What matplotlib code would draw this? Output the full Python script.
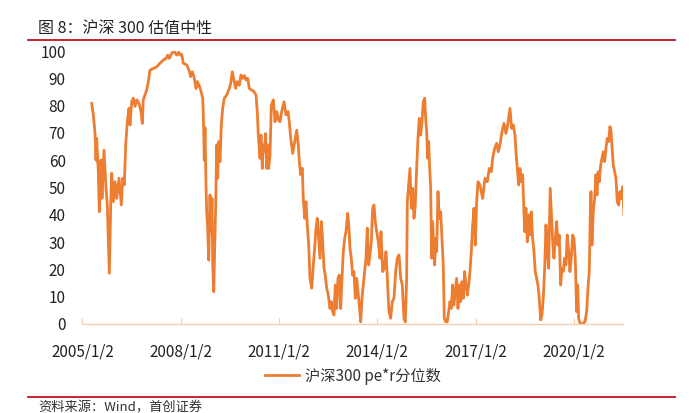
import matplotlib
matplotlib.use("Agg")
import matplotlib.pyplot as plt
from matplotlib.lines import Line2D

plt.rcParams['font.family'] = ['Noto Sans CJK SC', 'DejaVu Sans']

# decimal year of each reading, and the 沪深300 pe*r percentile
years = [
    2005.287, 2005.336, 2005.388, 2005.418, 2005.439, 2005.488, 2005.519, 2005.571, 2005.601, 2005.662,
    2005.723, 2005.763, 2005.824, 2005.867, 2005.897, 2005.946, 2005.998, 2006.050, 2006.120, 2006.190,
    2006.233, 2006.282, 2006.324, 2006.373, 2006.425, 2006.456, 2006.507, 2006.556, 2006.608, 2006.660,
    2006.730, 2006.791, 2006.831, 2006.861, 2006.913, 2006.965, 2007.014, 2007.066, 2007.167, 2007.270,
    2007.371, 2007.472, 2007.554, 2007.606, 2007.655, 2007.728, 2007.807, 2007.881, 2007.942,
    2007.981, 2008.033, 2008.082, 2008.186, 2008.256, 2008.308, 2008.357, 2008.409, 2008.470, 2008.509,
    2008.561, 2008.613, 2008.674, 2008.692, 2008.723, 2008.744, 2008.775, 2008.796, 2008.827, 2008.857,
    2008.897, 2008.927, 2008.958, 2008.979, 2009.010, 2009.040, 2009.071, 2009.101, 2009.132, 2009.162,
    2009.202, 2009.242, 2009.284, 2009.333, 2009.407, 2009.486, 2009.529, 2009.577, 2009.629, 2009.681,
    2009.730, 2009.791, 2009.843, 2009.895, 2009.944, 2009.995, 2010.047, 2010.096, 2010.169, 2010.240,
    2010.301, 2010.340, 2010.371, 2010.423, 2010.453, 2010.493, 2010.523, 2010.554, 2010.597, 2010.627,
    2010.658, 2010.688, 2010.728, 2010.768, 2010.829, 2010.881, 2010.933, 2010.994,
    2011.033, 2011.085, 2011.155, 2011.216, 2011.277, 2011.317, 2011.360, 2011.421, 2011.482, 2011.543,
    2011.592, 2011.623, 2011.665, 2011.714, 2011.744, 2011.787, 2011.827, 2011.866, 2011.909, 2011.949,
    2012.001, 2012.049, 2012.092, 2012.132, 2012.171, 2012.214, 2012.254, 2012.293, 2012.324, 2012.376,
    2012.415, 2012.458, 2012.507, 2012.558, 2012.598, 2012.641, 2012.681, 2012.721, 2012.763, 2012.803,
    2012.843, 2012.885, 2012.925, 2012.965, 2013.007, 2013.047, 2013.099, 2013.139, 2013.169, 2013.209,
    2013.251, 2013.291, 2013.331, 2013.374, 2013.413, 2013.453, 2013.496, 2013.535, 2013.575, 2013.618,
    2013.657, 2013.697, 2013.740, 2013.780, 2013.819, 2013.862, 2013.902, 2013.941, 2013.984, 2014.033,
    2014.084, 2014.115, 2014.167, 2014.216, 2014.268, 2014.308, 2014.359, 2014.411, 2014.460, 2014.512,
    2014.564, 2014.613, 2014.665, 2014.717, 2014.765, 2014.817, 2014.857, 2014.899, 2014.918, 2014.960,
    2015.000, 2015.040, 2015.082, 2015.122, 2015.162, 2015.204, 2015.244, 2015.284, 2015.327, 2015.366,
    2015.406, 2015.449, 2015.479, 2015.510, 2015.540, 2015.571, 2015.601, 2015.632, 2015.662, 2015.693,
    2015.723, 2015.754, 2015.784, 2015.815, 2015.855, 2015.894, 2015.937, 2015.977, 2016.016, 2016.047,
    2016.090, 2016.138, 2016.181, 2016.221, 2016.260, 2016.303, 2016.343, 2016.382, 2016.425, 2016.465,
    2016.505, 2016.547, 2016.587, 2016.627, 2016.669, 2016.709, 2016.749, 2016.791, 2016.831, 2016.871,
    2016.914, 2016.953, 2016.993, 2017.036, 2017.076,
    2017.136, 2017.219, 2017.289, 2017.359, 2017.420, 2017.481, 2017.524, 2017.585, 2017.646, 2017.695,
    2017.747, 2017.808, 2017.869, 2017.930, 2017.991, 2018.052, 2018.104, 2018.153, 2018.205, 2018.235,
    2018.275, 2018.317, 2018.357, 2018.397, 2018.439, 2018.470, 2018.500, 2018.540, 2018.580, 2018.622,
    2018.662, 2018.702, 2018.744, 2018.784, 2018.824, 2018.867, 2018.906, 2018.946, 2018.989, 2019.028,
    2019.068, 2019.111, 2019.150, 2019.190, 2019.233, 2019.251, 2019.281, 2019.312, 2019.355, 2019.394,
    2019.434, 2019.477, 2019.516, 2019.556, 2019.599, 2019.638, 2019.678, 2019.721, 2019.760, 2019.800,
    2019.843, 2019.882, 2019.922, 2019.965, 2020.005, 2020.044, 2020.087, 2020.118, 2020.148, 2020.188,
    2020.240, 2020.289, 2020.341, 2020.392, 2020.432, 2020.472, 2020.502, 2020.524, 2020.554, 2020.594,
    2020.636, 2020.676, 2020.707, 2020.746, 2020.777, 2020.820, 2020.859, 2020.899, 2020.942, 2020.981,
    2021.021, 2021.063, 2021.103, 2021.134, 2021.164, 2021.204, 2021.247, 2021.286, 2021.326, 2021.369,
    2021.409, 2021.448, 2021.491, 2021.531,
]
pct = [
    80.8, 76.6, 69.8, 60.0, 68.0, 55.8, 41.1, 60.1, 46.0, 63.7,
    49.7, 43.6, 18.6, 43.6, 55.2, 44.8, 52.1, 46.0, 53.4, 43.6,
    53.4, 51.0, 65.6, 74.1, 79.0, 72.9, 81.4, 82.7, 79.7, 82.1,
    80.8, 77.8, 73.5, 82.1, 83.9, 85.7, 88.8, 93.0, 93.6, 94.2,
    95.5, 96.7, 97.3, 98.5, 97.3, 99.2, 99.8, 98.5, 99.6,
    98.5, 98.8, 95.5, 94.9, 93.0, 90.6, 92.4, 90.6, 86.3, 88.8,
    87.5, 85.7, 82.7, 77.2, 60.0, 72.0, 50.9, 41.1, 35.1, 23.4,
    47.3, 33.8, 46.0, 22.8, 11.8, 27.7, 43.6, 65.6, 53.4, 66.8,
    59.5, 72.9, 79.0, 82.7, 83.9, 86.3, 88.2, 92.4, 89.4, 86.3,
    88.8, 87.5, 91.2, 90.0, 91.0, 89.4, 90.0, 86.3, 85.7, 85.1,
    83.9, 77.8, 69.2, 60.7, 69.2, 57.0, 65.6, 63.1, 69.8, 57.0,
    65.6, 57.0, 61.9, 80.2, 82.1, 74.1, 77.8, 74.7,
    74.1, 77.8, 81.4, 76.6, 77.8, 74.1, 68.0, 62.5, 66.8, 71.0,
    65.6, 59.5, 54.7, 57.0, 46.0, 38.7, 44.8, 36.3, 28.9, 16.7,
    13.1, 21.6, 27.7, 35.1, 38.7, 31.4, 24.1, 37.5, 32.6, 20.4,
    17.9, 13.1, 10.6, 5.7, 8.2, 4.5, 3.3, 14.3, 5.7, 16.7,
    17.9, 5.7, 16.7, 26.5, 31.4, 33.8, 40.5, 35.1, 27.7, 24.1,
    17.9, 19.2, 9.4, 16.7, 11.8, 7.0, 0.8, 9.4, 14.3, 19.2,
    24.1, 35.1, 21.6, 25.3, 30.1, 42.4, 43.6, 37.5, 33.8, 30.1,
    24.1, 33.8, 19.2, 20.4, 26.5, 16.7, 4.5, 2.1, 8.2, 9.4,
    19.2, 24.1, 25.3, 16.7, 14.3, 2.1, 0.8, 16.7, 44.8, 50.9,
    57.0, 42.4, 49.7, 38.7, 43.6, 57.0, 68.0, 75.3, 69.2, 74.1,
    81.4, 82.7, 75.3, 70.4, 60.7, 66.8, 57.0, 49.7, 24.1, 37.5,
    28.9, 21.6, 31.4, 26.5, 48.5, 38.7, 41.1, 31.4, 21.6, 2.1,
    0.8, 0.8, 4.5, 8.2, 5.7, 14.3, 7.0, 11.8, 16.7, 5.7,
    14.3, 8.2, 15.5, 9.4, 19.2, 14.3, 10.6, 14.3, 19.2, 26.5,
    36.3, 42.4, 28.9, 44.8, 52.1,
    50.9, 46.0, 53.4, 52.1, 57.0, 55.8, 60.7, 64.3, 66.2, 63.1,
    65.6, 70.4, 73.5, 69.8, 73.5, 79.0, 71.6, 72.9, 69.2, 63.1,
    57.0, 50.9, 57.0, 52.1, 54.7, 43.6, 33.8, 42.4, 30.1, 40.0,
    32.6, 41.1, 31.4, 26.5, 19.2, 16.7, 14.3, 9.4, 1.5, 3.3,
    9.4, 20.4, 36.3, 26.5, 20.4, 33.8, 49.7, 41.1, 30.1, 24.1,
    31.4, 37.5, 28.9, 32.6, 14.3, 20.4, 19.2, 24.1, 21.6, 32.6,
    26.5, 19.2, 24.1, 32.6, 31.4, 24.1, 4.5, 14.3, 2.1, 0.3,
    0.0, 0.3, 0.8, 4.5, 13.1, 19.2, 38.7, 48.5, 28.9, 41.1,
    46.0, 54.7, 47.3, 55.8, 52.1, 58.2, 60.7, 63.1, 59.5, 64.3,
    68.0, 66.8, 72.3, 71.0, 65.6, 58.2, 55.8, 53.4, 44.8, 43.6,
    48.5, 46.0, 50.3, 40.0,
]
tick_years = [2005, 2008, 2011, 2014, 2017, 2020]
tick_labels = [f"{y}/1/2" for y in tick_years]
y_ticks = [0, 10, 20, 30, 40, 50, 60, 70, 80, 90, 100]

title = "图 8：沪深 300 估值中性"
series_name = "沪深300 pe*r分位数"
source = "资料来源：Wind，首创证券"

orange = '#ED7D31'
axis_col = '#F5CDB0'
red = '#C0141C'

fig = plt.figure(figsize=(6.9, 4.13), dpi=100)
ax = fig.add_axes([0.1193, 0.2155, 0.784, 0.661])

ax.plot(years, pct, color=orange, lw=2.0, label=series_name)

ax.set_xlim(2005, 2021.51)
ax.set_ylim(0, 100)
ax.set_xticks(tick_years)
ax.set_xticklabels(tick_labels)
ax.set_yticks(y_ticks)

for s in ['left', 'top', 'right']:
    ax.spines[s].set_visible(False)
ax.spines['bottom'].set_color(axis_col)
ax.spines['bottom'].set_linewidth(1.0)
ax.tick_params(axis='x', direction='in', length=4, color=axis_col, pad=14,
               labelsize=11, labelcolor='#222222')
ax.tick_params(axis='y', length=0, pad=12, labelsize=11, labelcolor='#222222')

leg = ax.legend(loc='upper center', bbox_to_anchor=(0.5, -0.11), frameon=False,
                fontsize=11, handlelength=2.2, handletextpad=0.4)
for t in leg.get_texts():
    t.set_color('#333333')

fig.text(38 / 690, 1 - 28 / 413, title, fontsize=11.5, color='#222222', va='center', ha='left')
fig.add_artist(Line2D([28 / 690, 675 / 690], [1 - 40 / 413, 1 - 40 / 413], color=red, lw=1.3))
fig.add_artist(Line2D([28 / 690, 675 / 690], [1 - 397 / 413, 1 - 397 / 413], color=red, lw=1.3))
fig.text(38 / 690, 1 - 408 / 413, source, fontsize=9.5, color='#333333', va='center', ha='left',
         style='italic')

fig.savefig('out.png', dpi=100)
